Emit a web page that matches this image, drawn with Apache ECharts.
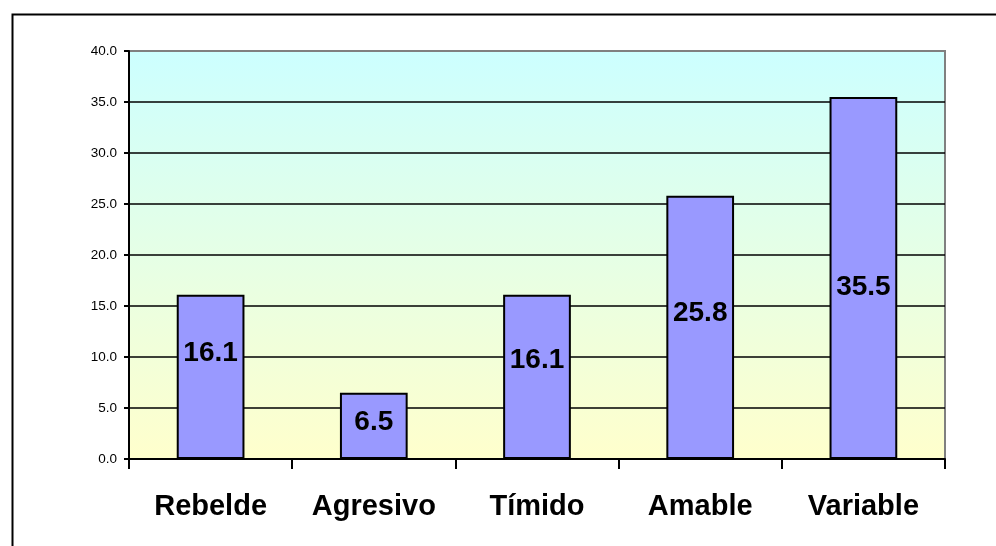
<!DOCTYPE html>
<html>
<head>
<meta charset="utf-8">
<script src="https://cdn.jsdelivr.net/npm/echarts@6/dist/echarts.min.js"></script>
<style>html,body{margin:0;padding:0;background:#fff}#c{width:996px;height:546px}</style>
</head>
<body>
<div id="c"></div>
<script>
const categories = ['Rebelde', 'Agresivo', 'Tímido', 'Amable', 'Variable'];
const values = [16.1, 6.5, 16.1, 25.8, 35.5];
const yTicks = [0, 5, 10, 15, 20, 25, 30, 35, 40];
// vertical nudges of the value labels (style only)
const labelDy = [-24, -4, -17, -14, 9];

const chart = echarts.init(document.getElementById('c'), null, {renderer: 'canvas'});
const font = 'Liberation Sans, Arial, sans-serif';
const splitColors = yTicks.map((t, i) => i === yTicks.length - 1 ? '#808080' : '#000000');

chart.setOption({
  animation: false,
  backgroundColor: '#ffffff',
  graphic: [{
    type: 'rect', left: 10, top: 12, z: -1,
    shape: {width: 1100, height: 700},
    style: {fill: 'none', stroke: '#000', lineWidth: 2}
  }],
  grid: {
    left: 129, top: 51, right: 51, bottom: 87,
    show: true,
    borderColor: '#808080', borderWidth: 2,
    backgroundColor: {
      type: 'linear', x: 0, y: 0, x2: 0, y2: 1,
      colorStops: [{offset: 0, color: '#CCFFFF'}, {offset: 1, color: '#FFFFCC'}]
    }
  },
  xAxis: {
    type: 'category',
    data: categories,
    axisLine: {lineStyle: {color: '#000', width: 2}},
    axisTick: {show: true, length: 10, lineStyle: {color: '#000', width: 2}},
    axisLabel: {fontFamily: font, fontWeight: 'bold', fontSize: 29, color: '#000', margin: 33}
  },
  yAxis: {
    type: 'value',
    min: yTicks[0], max: yTicks[yTicks.length - 1], interval: 5,
    axisLine: {show: true, lineStyle: {color: '#000', width: 2}},
    axisTick: {show: true, length: 5, lineStyle: {color: '#000', width: 2}},
    axisLabel: {fontFamily: font, fontSize: 13.5, color: '#000', margin: 12,
      formatter: v => v.toFixed(1)},
    splitLine: {show: true, lineStyle: {color: splitColors, width: 1.5}}
  },
  series: [{
    type: 'bar',
    barWidth: '41.5%',
    data: values.map((v, i) => ({
      value: v,
      label: {offset: [0, labelDy[i]]}
    })),
    itemStyle: {color: '#9999FF', borderColor: '#000', borderWidth: 2},
    label: {
      show: true, position: 'inside',
      fontFamily: font, fontWeight: 'bold', fontSize: 28, color: '#000',
      formatter: p => p.value.toFixed(1)
    }
  }]
});
</script>
</body>
</html>
